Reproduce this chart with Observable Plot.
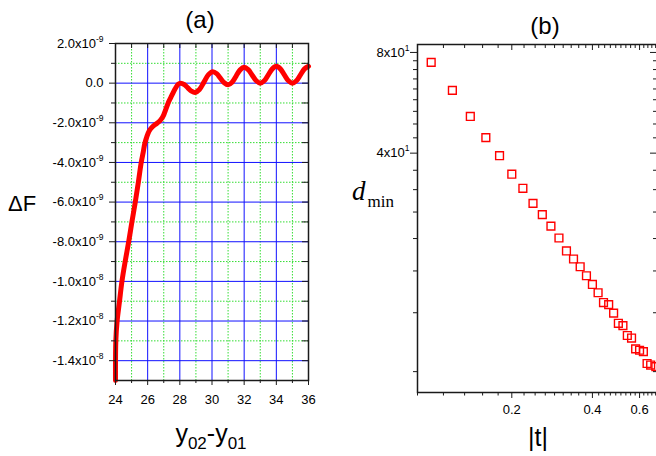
<!DOCTYPE html>
<html><head><meta charset="utf-8">
<script src="https://cdn.jsdelivr.net/npm/d3@7"></script>
<script src="https://cdn.jsdelivr.net/npm/@observablehq/plot@0.6"></script>
<style>
html,body{margin:0;padding:0;background:#fff;overflow:hidden;width:656px;height:456px}
#wrap{position:relative;width:656px;height:456px;overflow:hidden}
#wrap svg{position:absolute;top:0}
</style></head><body><div id="wrap"></div>
<script>
// ---------- Panel (a) data ----------
const sepA = [24.0, 24.02, 24.1, 24.25, 24.4, 24.6, 24.82, 25.02, 25.23, 25.42, 25.6, 25.72, 25.82, 25.95, 26.1, 26.3, 26.5, 26.7, 26.9, 27.0, 27.3, 27.5, 27.7, 27.9, 28.05, 28.28, 28.5, 28.72, 28.95, 29.22, 29.5, 29.78, 30.05, 30.29, 30.52, 30.76, 31.0, 31.25, 31.5, 31.75, 32.0, 32.25, 32.5, 32.75, 33.0, 33.25, 33.5, 33.75, 34.0, 34.25, 34.5, 34.75, 35.0, 35.25, 35.5, 35.75, 36.0];
const dF   = [-15, -13, -12, -11, -10, -9, -8, -7, -6, -5, -4, -3.5, -3.05, -2.7, -2.4, -2.2, -2.07, -1.95, -1.75, -1.6, -0.95, -0.62, -0.3, -0.05, 0.0, -0.07, -0.24, -0.4, -0.47, -0.32, 0.05, 0.43, 0.58, 0.48, 0.25, 0.02, -0.08, 0.05, 0.36, 0.67, 0.8, 0.68, 0.4, 0.12, 0.0, 0.12, 0.42, 0.72, 0.85, 0.72, 0.42, 0.12, 0.0, 0.12, 0.42, 0.72, 0.85].map(v => v * 1e-9);
const xTicksA = [24, 26, 28, 30, 32, 34, 36];
const xMinorA = [25, 27, 29, 31, 33, 35];
const yTicksA = [-1.4e-8, -1.2e-8, -1.0e-8, -8e-9, -6e-9, -4e-9, -2e-9, 0, 2e-9];
const yLabelsA = ["-1.4x10^-8", "-1.2x10^-8", "-1.0x10^-8", "-8.0x10^-9", "-6.0x10^-9", "-4.0x10^-9", "-2.0x10^-9", "0.0", "2.0x10^-9"];
const yMinorA = [-1.3e-8, -1.1e-8, -9e-9, -7e-9, -5e-9, -3e-9, -1e-9, 1e-9];

// ---------- Panel (b) data ----------
const tAbs = [0.10, 0.12, 0.14, 0.16, 0.18, 0.20, 0.22, 0.24, 0.26, 0.28, 0.30, 0.32, 0.34, 0.36, 0.38, 0.40, 0.42, 0.44, 0.46, 0.48, 0.50, 0.52, 0.54, 0.56, 0.58, 0.60, 0.62, 0.64, 0.66, 0.69];
const dMin = [74.7, 61.6, 51.5, 44.5, 39.3, 34.6, 31.4, 28.3, 26.2, 24.2, 22.3, 20.4, 19.3, 18.3, 17.2, 16.2, 15.3, 14.3, 14.1, 13.3, 12.4, 12.2, 11.4, 11.2, 10.4, 10.3, 10.2, 9.4, 9.3, 9.2];
const xTicksB = [0.2, 0.4, 0.6];
const xLabelsB = ["0.2", "0.4", "0.6"];
const xMinorB = [0.0889, 0.1111, 0.1333, 0.1556, 0.1778, 0.2222, 0.2444, 0.2667, 0.2889, 0.3111, 0.3333, 0.3556, 0.3778, 0.4222, 0.4444, 0.4667, 0.4889, 0.5111, 0.5333, 0.5556, 0.5778, 0.6222, 0.6444, 0.6667, 0.6889];
const yTicksB = [40, 80];
const yLabelsB = ["4x10^1", "8x10^1"];
const yMinorB = [8.889, 13.333, 17.778, 22.222, 26.667, 31.111, 35.556, 44.444, 48.889, 53.333, 57.778, 62.222, 66.667, 71.111, 75.556];

const FONT = "Arial, 'Liberation Sans', sans-serif";
const AX = "#1a1a1a";
const lab = (ticks, labels) => { const m = new Map(ticks.map((t, i) => [t, labels[i]])); return d => m.get(d) ?? ""; };

// ---------- Panel (a) ----------
const WA = 330, HA = 456, mLA = 115, mRA = 22, mTA = 43, mBA = 76;
const fwA = WA - mLA - mRA, fhA = HA - mTA - mBA;
const dataA = sepA.map((x, i) => ({x, y: dF[i]}));
const plotA = Plot.plot({
  width: WA, height: HA, marginLeft: mLA, marginRight: mRA, marginTop: mTA, marginBottom: mBA,
  style: {fontFamily: FONT, fontSize: "13px", background: "transparent", color: "#000", overflow: "visible"},
  x: {domain: [24, 36]},
  y: {domain: [-1.5e-8, 2e-9]},
  marks: [
    Plot.gridX(xMinorA, {stroke: "#33dd33", strokeOpacity: 1, strokeDasharray: "1.5,1.5"}),
    Plot.gridY(yMinorA, {stroke: "#33dd33", strokeOpacity: 1, strokeDasharray: "1.5,1.5"}),
    Plot.gridX(xTicksA.slice(1, -1), {stroke: "#1010ff", strokeOpacity: 1}),
    Plot.gridY(yTicksA.slice(0, -1), {stroke: "#1010ff", strokeOpacity: 1}),
    Plot.line(dataA, {x: "x", y: "y", stroke: "#ff0000", strokeWidth: 5, curve: "catmull-rom", strokeLinecap: "round"}),
    Plot.frame({stroke: AX, strokeWidth: 1.5}),
    Plot.axisX(xMinorA, {anchor: "bottom", tickSize: 3, tickFormat: () => "", label: null, stroke: AX}),
    Plot.axisX(xTicksA, {anchor: "bottom", tickSize: 5, tickPadding: 9, tickFormat: d => String(d), label: null, stroke: AX, fontSize: 13}),
    Plot.axisY(yMinorA, {anchor: "left", tickSize: 4, tickFormat: () => "", label: null, stroke: AX}),
    Plot.axisY(yTicksA, {anchor: "left", tickSize: 6, tickPadding: 6, tickFormat: lab(yTicksA, yLabelsA), label: null, stroke: AX, fontSize: 13}),
    Plot.tickX(xTicksA.concat(xMinorA), {x: d => d, insetBottom: fhA - 5, stroke: AX}),
    Plot.tickY(yTicksA.concat(yMinorA), {y: d => d, insetLeft: fwA - 6, stroke: AX})
  ]
});

// ---------- Panel (b) ----------
const WB = 340, HB = 456, mLB = 87, mRB = 13, mTB = 44, mBB = 64;
const fwB = WB - mLB - mRB, fhB = HB - mTB - mBB;
const dataB = tAbs.map((x, i) => ({x, y: dMin[i]}));
const plotB = Plot.plot({
  width: WB, height: HB, marginLeft: mLB, marginRight: mRB, marginTop: mTB, marginBottom: mBB,
  style: {fontFamily: FONT, fontSize: "13px", background: "transparent", color: "#000", overflow: "visible"},
  x: {type: "log", domain: [0.0889, 0.70]},
  y: {type: "log", domain: [7.7, 84.5]},
  marks: [
    Plot.dot(dataB, {x: "x", y: "y", symbol: "square", r: 4.4, stroke: "#ff0000", strokeWidth: 1.4, fill: "none"}),
    Plot.frame({stroke: AX, strokeWidth: 1.5}),
    Plot.axisX(xMinorB, {anchor: "bottom", tickSize: 3.5, tickFormat: () => "", label: null, stroke: AX}),
    Plot.axisX(xTicksB, {anchor: "bottom", tickSize: 6, tickFormat: () => "", label: null, stroke: AX}),
    Plot.text(xTicksB, {x: d => d, text: (d, i) => xLabelsB[i], frameAnchor: "bottom", lineAnchor: "top", dy: 12, fontSize: 13, fill: "#000"}),
    Plot.axisY(yMinorB, {anchor: "left", tickSize: 4, tickFormat: () => "", label: null, stroke: AX}),
    Plot.axisY(yTicksB, {anchor: "left", tickSize: 7, tickPadding: 1, tickFormat: lab(yTicksB, yLabelsB), label: null, stroke: AX, fontSize: 13}),
    Plot.tickX(xMinorB, {x: d => d, insetBottom: fhB - 4, stroke: AX}),
    Plot.tickX(xTicksB, {x: d => d, insetBottom: fhB - 6, stroke: AX}),
    Plot.tickY(yMinorB, {y: d => d, insetLeft: fwB - 4, stroke: AX}),
    Plot.tickY(yTicksB, {y: d => d, insetLeft: fwB - 7, stroke: AX})
  ]
});

const wrap = document.getElementById("wrap");
plotA.style.left = "0px";
plotB.style.left = "330px";
wrap.appendChild(plotA);
wrap.appendChild(plotB);

// superscripts in tick labels: "Mx10^e"
for (const svg of [plotA, plotB]) {
  d3.select(svg).selectAll("text").each(function () {
    const s = this.textContent;
    const k = s.indexOf("^");
    if (k < 0) return;
    const t = d3.select(this);
    t.text(s.slice(0, k));
    t.append("tspan").attr("dy", "-6").attr("font-size", "8.5px").text(s.slice(k + 1));
  });
}

// titles and axis titles
const sa = d3.select(plotA), sb = d3.select(plotB);
sa.append("text").attr("x", 200).attr("y", 28).attr("text-anchor", "middle").attr("font-size", 24).attr("font-family", FONT).text("(a)");
sa.append("text").attr("x", 8).attr("y", 211).attr("text-anchor", "start").attr("font-size", 22).attr("font-family", FONT).text("\u0394F");
{
  const t = sa.append("text").attr("x", 211).attr("y", 442).attr("text-anchor", "middle").attr("font-size", 25).attr("font-family", FONT);
  t.append("tspan").text("y");
  t.append("tspan").attr("font-size", 17).attr("dy", 7).text("02");
  t.append("tspan").attr("dy", -7).text("-y");
  t.append("tspan").attr("font-size", 17).attr("dy", 7).text("01");
}
sb.append("text").attr("x", 215).attr("y", 34).attr("text-anchor", "middle").attr("font-size", 24).attr("font-family", FONT).text("(b)");
sb.append("text").attr("x", 208).attr("y", 446).attr("text-anchor", "middle").attr("font-size", 25).attr("font-family", FONT).text("|t|");
{
  const t = sb.append("text").attr("x", 22).attr("y", 200).attr("text-anchor", "start").attr("font-family", "'Liberation Serif', 'Times New Roman', serif");
  t.append("tspan").attr("font-size", 27).attr("font-style", "italic").text("d");
  t.append("tspan").attr("font-size", 17).attr("dy", 7).attr("dx", 2).text("min");
}
</script></body></html>
